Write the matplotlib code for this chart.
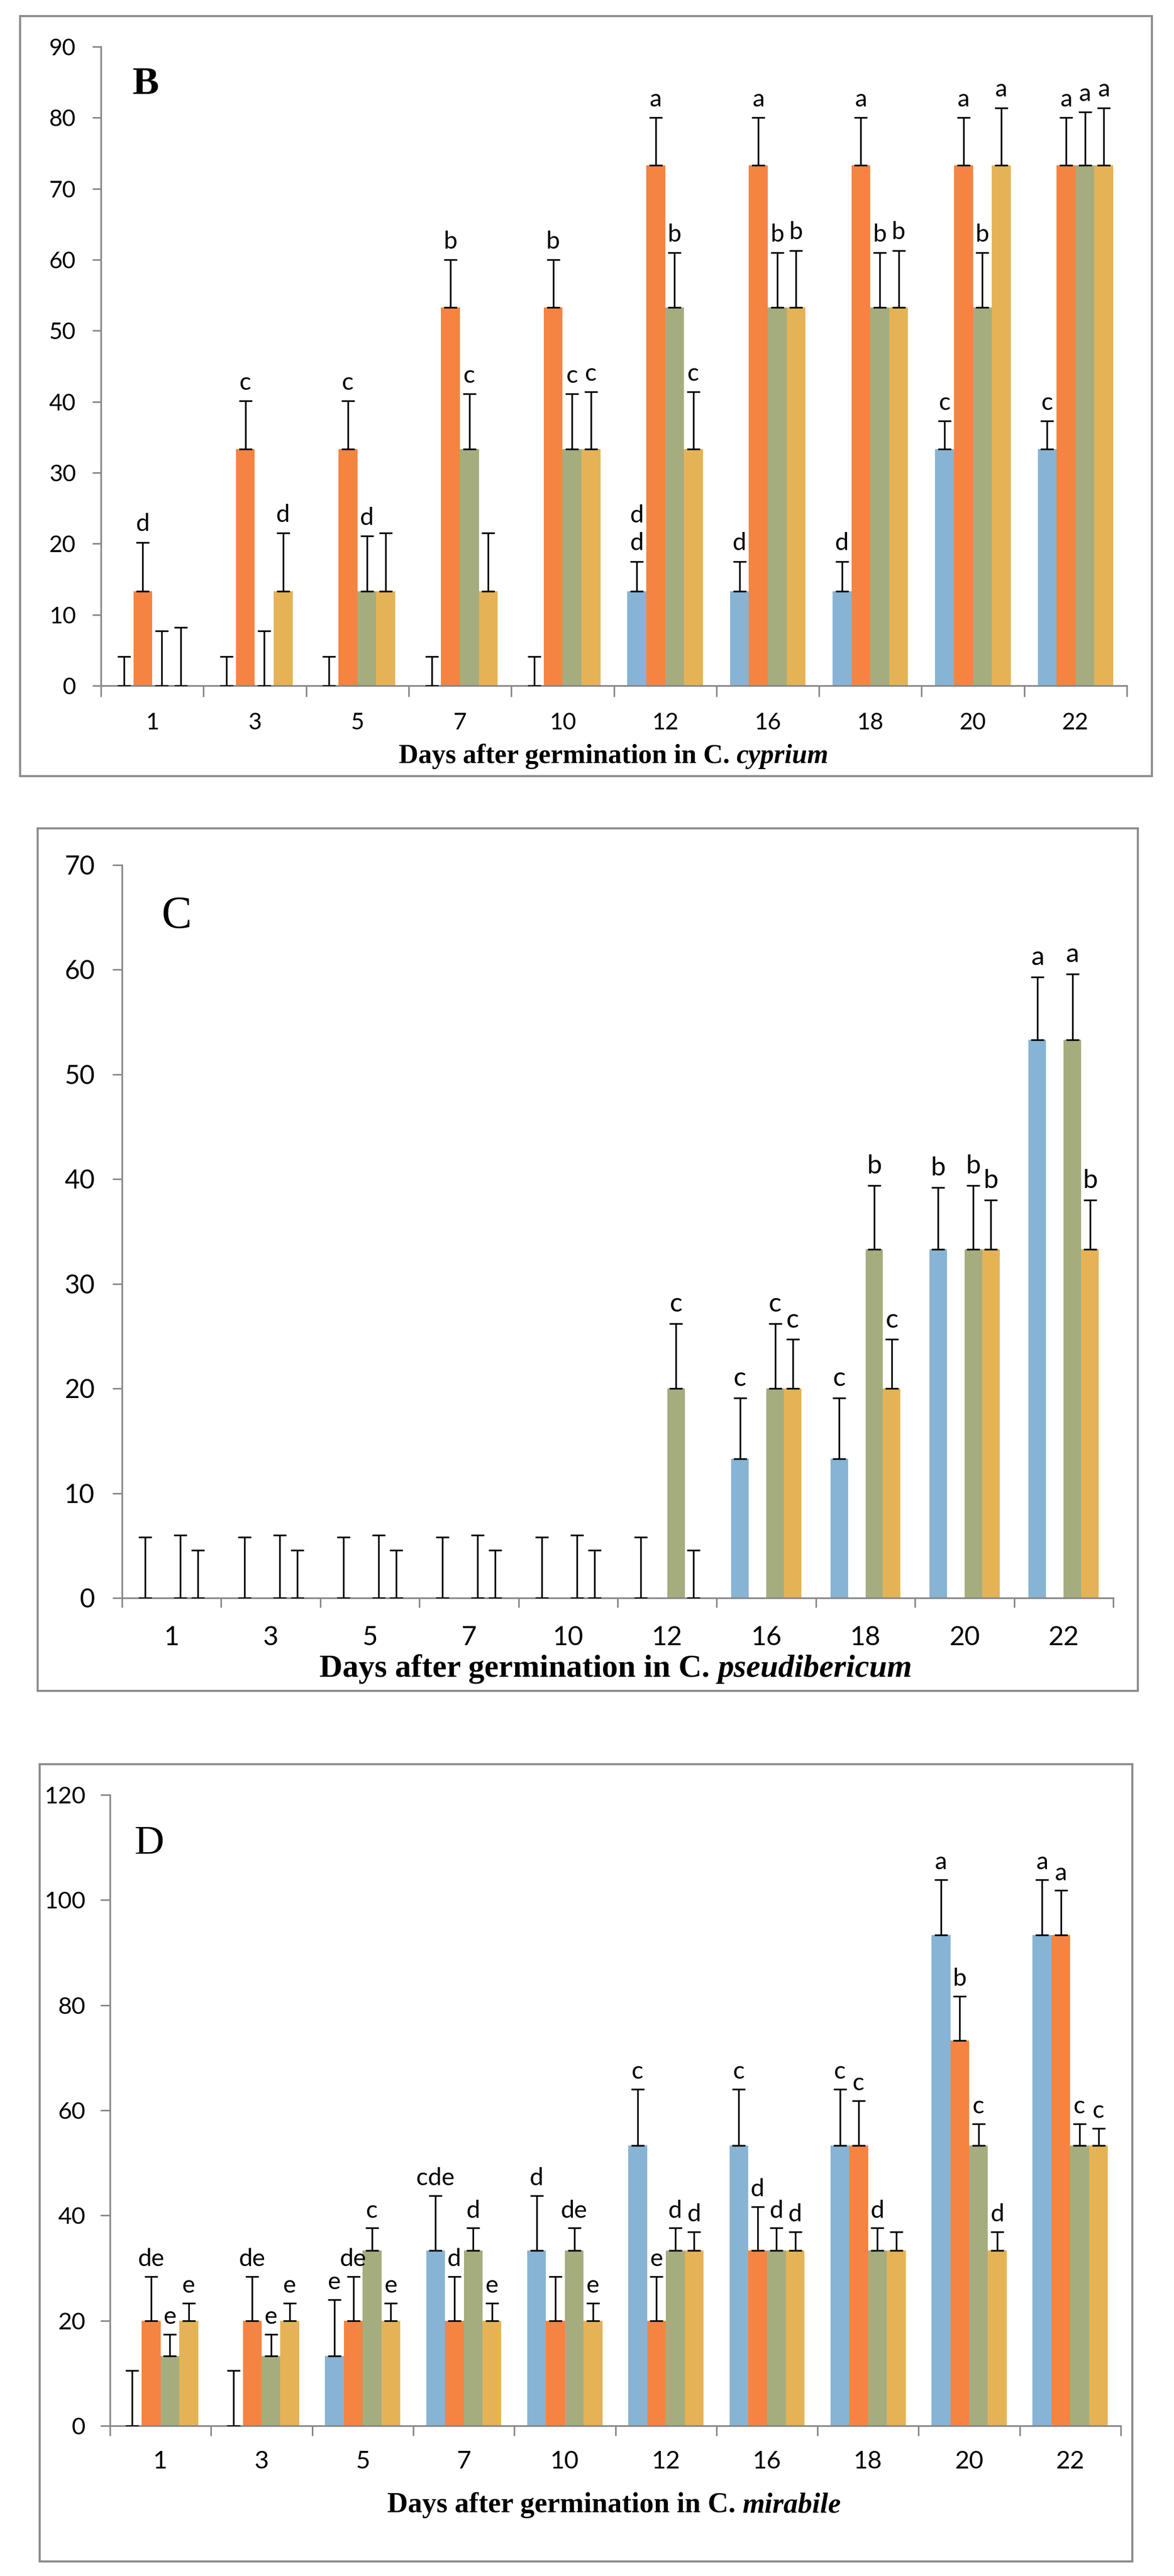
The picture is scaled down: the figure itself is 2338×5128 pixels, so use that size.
import numpy as np
import matplotlib
matplotlib.use("Agg")
import matplotlib.pyplot as plt
from matplotlib.patches import Rectangle

W, H = 2338, 5128
plt.rcParams['font.family'] = ['Lato', 'DejaVu Sans']

days = ['1', '3', '5', '7', '10', '12', '16', '18', '20', '22']
colors = ['#87B4D4', '#F58442', '#A5AD7F', '#E5B356']
grey = '#878787'

# --- B: C. cyprium (blue, orange, green, yellow)
b_blue = [0, 0, 0, 0, 0, 13.3, 13.3, 13.3, 33.3, 33.3]
b_orange = [13.3, 33.3, 33.3, 53.3, 53.3, 73.3, 73.3, 73.3, 73.3, 73.3]
b_green = [0, 0, 13.3, 33.3, 33.3, 53.3, 53.3, 53.3, 53.3, 73.3]
b_yellow = [0, 13.3, 13.3, 13.3, 33.3, 33.3, 53.3, 53.3, 73.3, 73.3]
b_blue_err = [4.1, 4.1, 4.1, 4.1, 4.1, 4.2, 4.2, 4.2, 4.0, 4.0]
b_orange_err = [6.9, 6.8, 6.8, 6.7, 6.7, 6.7, 6.7, 6.7, 6.7, 6.7]
b_green_err = [7.7, 7.7, 7.8, 7.8, 7.8, 7.7, 7.7, 7.7, 7.7, 7.5]
b_yellow_err = [8.2, 8.2, 8.2, 8.2, 8.1, 8.1, 8.0, 8.0, 8.1, 8.1]
b_blue_lab = ['', '', '', '', '', 'd\nd', 'd', 'd', 'c', 'c']
b_orange_lab = ['d', 'c', 'c', 'b', 'b', 'a', 'a', 'a', 'a', 'a']
b_green_lab = ['', '', 'd', 'c', 'c', 'b', 'b', 'b', 'b', 'a']
b_yellow_lab = ['', 'd', '', '', 'c', 'c', 'b', 'b', 'a', 'a']

# --- C: C. pseudibericum
c_blue = [0, 0, 0, 0, 0, 0, 13.3, 13.3, 33.3, 53.3]
c_orange = [0, 0, 0, 0, 0, 0, 0, 0, 0, 0]
c_green = [0, 0, 0, 0, 0, 20, 20, 33.3, 33.3, 53.3]
c_yellow = [0, 0, 0, 0, 0, 0, 20, 20, 33.3, 33.3]
c_blue_err = [5.8, 5.8, 5.8, 5.8, 5.8, 5.8, 5.8, 5.8, 5.9, 6.0]
c_orange_err = [0, 0, 0, 0, 0, 0, 0, 0, 0, 0]
c_green_err = [6.0, 6.0, 6.0, 6.0, 6.0, 6.2, 6.2, 6.1, 6.1, 6.3]
c_yellow_err = [4.55, 4.55, 4.55, 4.55, 4.55, 4.55, 4.7, 4.7, 4.7, 4.7]
c_blue_lab = ['', '', '', '', '', '', 'c', 'c', 'b', 'a']
c_orange_lab = [''] * 10
c_green_lab = ['', '', '', '', '', 'c', 'c', 'b', 'b', 'a']
c_yellow_lab = ['', '', '', '', '', '', 'c', 'c', 'b', 'b']

# --- D: C. mirabile
d_blue = [0, 0, 13.3, 33.3, 33.3, 53.3, 53.3, 53.3, 93.3, 93.3]
d_orange = [20, 20, 20, 20, 20, 20, 33.3, 53.3, 73.3, 93.3]
d_green = [13.3, 13.3, 33.3, 33.3, 33.3, 33.3, 33.3, 33.3, 53.3, 53.3]
d_yellow = [20, 20, 20, 20, 20, 33.3, 33.3, 33.3, 33.3, 53.3]
d_blue_err = [10.5, 10.5, 10.7, 10.5, 10.5, 10.7, 10.7, 10.7, 10.6, 10.6]
d_orange_err = [8.4, 8.4, 8.4, 8.4, 8.4, 8.4, 8.4, 8.5, 8.4, 8.5]
d_green_err = [4.1, 4.1, 4.3, 4.3, 4.3, 4.3, 4.3, 4.3, 4.1, 4.1]
d_yellow_err = [3.3, 3.3, 3.3, 3.3, 3.3, 3.6, 3.6, 3.6, 3.6, 3.3]
d_blue_lab = ['', '', 'e', 'cde', 'd', 'c', 'c', 'c', 'a', 'a']
d_orange_lab = ['de', 'de', 'de', 'd', '', 'e', 'd', 'c', 'b', 'a']
d_green_lab = ['e', 'e', 'c', 'd', 'de', 'd', 'd', 'd', 'c', 'c']
d_yellow_lab = ['e', 'e', 'e', 'e', 'e', 'd', 'd', '', 'd', 'c']

fig = plt.figure(figsize=(W / 100, H / 100), dpi=100)
renderer = fig.canvas.get_renderer()


def frame(l, t, r, b):
    fig.add_artist(Rectangle((l / W, 1 - b / H), (r - l) / W, (b - t) / H,
                             transform=fig.transFigure, fill=False,
                             ec='#8c8c8c', lw=3))


def xlabel(cx, base, species, size):
    part1 = 'Days after germination in C.'
    t1 = fig.text(0, 1 - base / H, part1, family='Liberation Serif',
                  weight='bold', size=size, va='baseline', ha='left')
    t2 = fig.text(0, 1 - base / H, species, family='Liberation Serif',
                  weight='bold', style='italic', size=size, va='baseline', ha='left')
    w1 = t1.get_window_extent(renderer).width
    w2 = t2.get_window_extent(renderer).width
    sp = 0.25 * size * 100 / 72
    x0 = cx - (w1 + sp + w2) / 2
    t1.set_x(x0 / W)
    t2.set_x((x0 + w1 + sp) / W)


def panel(box, vals, errs, labs, ymax, ystep, w, ysize, xsize, lsize,
          ylen, ypad, xlen, xpad, loff):
    x0, ytop, x1, y0 = box
    ax = fig.add_axes([x0 / W, 1 - y0 / H, (x1 - x0) / W, (y0 - ytop) / H])
    xs = np.arange(len(days))
    for i in range(4):
        x = xs + (i - 1.5) * w
        v = np.array(vals[i], dtype=float)
        e = np.array(errs[i], dtype=float)
        ax.bar(x, v, w, color=colors[i], zorder=2, lw=0)
        m = e > 0
        ax.errorbar(x[m], v[m], yerr=[np.zeros(m.sum()), e[m]], fmt='none',
                    ecolor='black', elinewidth=2.4, capsize=9.5, capthick=2.4,
                    zorder=3)
        for j, lab in enumerate(labs[i]):
            if not lab:
                continue
            for k, part in enumerate(reversed(lab.split('\n'))):
                ax.annotate(part, (x[j], v[j] + e[j]),
                            xytext=(0, loff + k * lsize * 1.15),
                            textcoords='offset points', ha='center',
                            va='baseline', fontsize=lsize, zorder=4)
    ax.set_xlim(-0.5, len(days) - 0.5)
    ax.set_ylim(0, ymax)
    ax.set_yticks(np.arange(0, ymax + 1, ystep))
    ax.set_xticks(xs)
    ax.set_xticklabels(days)
    ax.set_xticks(np.arange(-0.5, len(days), 1), minor=True)
    for s in ['top', 'right']:
        ax.spines[s].set_visible(False)
    for s in ['left', 'bottom']:
        ax.spines[s].set_color(grey)
        ax.spines[s].set_linewidth(2.4)
    ax.tick_params(axis='y', direction='out', length=ylen, width=2.2,
                   color=grey, pad=ypad, labelsize=ysize)
    ax.tick_params(axis='x', which='major', length=0, pad=xpad, labelsize=xsize)
    ax.tick_params(axis='x', which='minor', direction='out', length=xlen,
                   width=2.2, color=grey)
    ax.set_facecolor('none')
    return ax


# B
frame(40, 32, 2294, 1545)
panel((201, 93, 2244, 1365),
      [b_blue, b_orange, b_green, b_yellow],
      [b_blue_err, b_orange_err, b_green_err, b_yellow_err],
      [b_blue_lab, b_orange_lab, b_green_lab, b_yellow_lab],
      90, 10, 0.184, 33, 33, 35, 12, 24, 16, 38, 16)
fig.text(264 / W, 1 - 187 / H, 'B', family='Liberation Serif', weight='bold',
         size=57, ha='left', va='baseline')
xlabel(1222, 1519, 'cyprium', 39)

# C
frame(75, 1649, 2266, 3366)
panel((243, 1722, 2217, 3181),
      [c_blue, c_orange, c_green, c_yellow],
      [c_blue_err, c_orange_err, c_green_err, c_yellow_err],
      [c_blue_lab, c_orange_lab, c_green_lab, c_yellow_lab],
      70, 10, 0.177, 37.5, 38, 38, 14, 25, 14, 40, 17)
fig.text(321 / W, 1 - 1847 / H, 'C', family='Liberation Serif',
         size=65, ha='left', va='baseline')
xlabel(1226, 3338, 'pseudibericum', 46)

# D
frame(79, 3512, 2255, 5099)
panel((219, 3573, 2232, 4829),
      [d_blue, d_orange, d_green, d_yellow],
      [d_blue_err, d_orange_err, d_green_err, d_yellow_err],
      [d_blue_lab, d_orange_lab, d_green_lab, d_yellow_lab],
      120, 20, 0.186, 34, 35.5, 35, 14, 21, 14.5, 35, 15)
fig.text(268 / W, 1 - 3691 / H, 'D', family='Liberation Serif',
         size=59, ha='left', va='baseline')
xlabel(1223, 5001, 'mirabile', 41)

fig.savefig('out.png', dpi=100, facecolor='white')
